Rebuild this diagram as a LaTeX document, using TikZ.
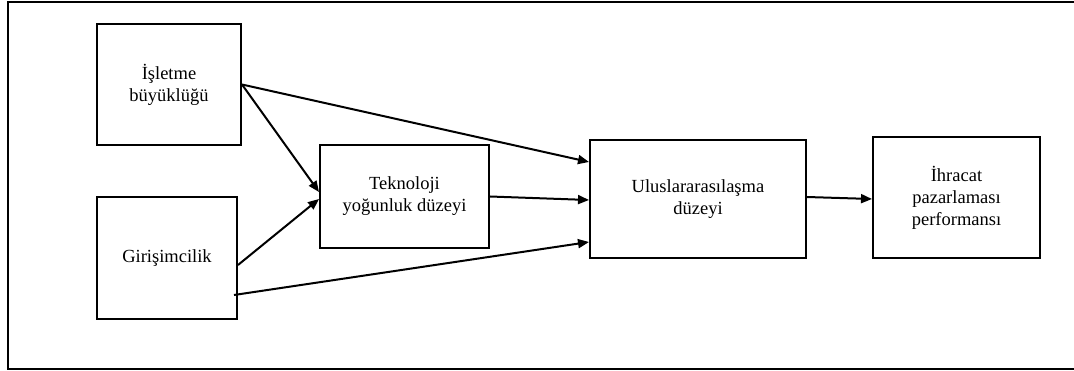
\documentclass[tikz,border=0pt]{standalone}
\usepackage{fontspec}
\setmainfont{Liberation Serif}
\usetikzlibrary{arrows.meta,calc}
\begin{document}
\begin{tikzpicture}[x=1pt,y=-1pt,
  box/.style={draw,line width=2pt,align=center,inner sep=2pt,
    font=\fontsize{18.5}{22}\selectfont},
  link/.style={line width=2pt,-{Triangle[length=11pt,width=9pt]}}]
\useasboundingbox (0,0) rectangle (1074,371);
% open frame: top, left and bottom rules
\draw[line width=2pt] (1074,2) -- (8,2) -- (8,369) -- (1074,369);

\node[box,minimum width=144pt,minimum height=121pt] (b1) at (169,84.5) {İşletme\\büyüklüğü};
\node[box,minimum width=140pt,minimum height=122pt] (b2) at (167,258) {Girişimcilik};
\node[box,minimum width=169pt,minimum height=103pt] (b3) at (404.5,196.5) {Teknoloji\\yoğunluk düzeyi};
\node[box,minimum width=216pt,minimum height=118pt] (b4) at (698,199) {Uluslararasılaşma\\düzeyi};
\node[box,minimum width=167pt,minimum height=121pt] (b5) at (956.5,197.5) {İhracat\\pazarlaması\\performansı};

\draw[link] (b1.east) -- ($(b3.west)+(0,-4.5)$);
\draw[link] ($(b2.east)+(0,7)$) -- ($(b3.west)+(0,2.5)$);
\draw[link] (b1.east) -- ($(b4.west)+(0,-37)$);
\draw[link] ($(b2.south east)+(-4,-25)$) -- ($(b4.west)+(0,43)$);
\draw[link] (b3.east) -- ($(b4.west)+(0,1)$);
\draw[link] ($(b4.east)+(0,-2)$) -- ($(b5.west)+(0,1.5)$);
\end{tikzpicture}
\end{document}
